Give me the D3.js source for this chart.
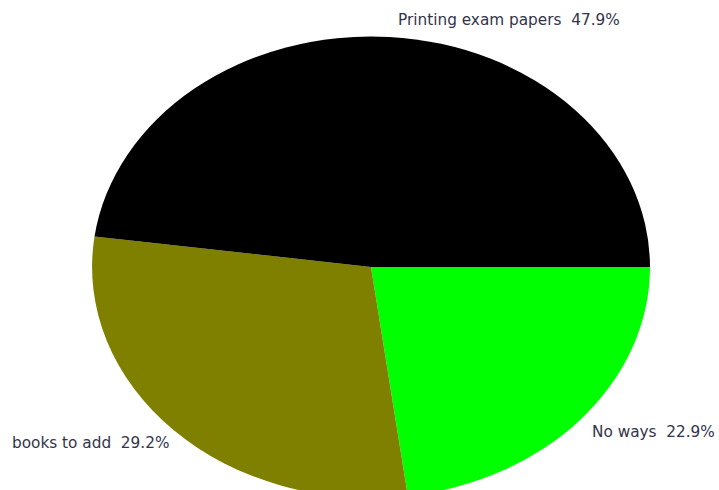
<!DOCTYPE html>
<html><head><meta charset="utf-8">
<script src="https://cdn.jsdelivr.net/npm/d3@7"></script>
<style>html,body{margin:0;padding:0;background:#fff;overflow:hidden}</style>
</head><body>
<svg id="chart" width="719" height="490"></svg>
<script>
const categories = ["No ways", "books to add", "Printing exam papers"];
const values = [22.9, 29.2, 47.9];
const colors = ["#00ff00", "#808000", "#000000"];

const W = 719, H = 490;
const cx = 371, cy = 267, rx = 279, ry = 231;
const svg = d3.select("#chart");

const pie = d3.pie().sort(null).value(d => d.v)
  .startAngle(Math.PI / 2).endAngle(Math.PI / 2 + 2 * Math.PI);
const data = categories.map((c, i) => ({c, v: values[i], col: colors[i]}));
const arcs = pie(data);
const arc = d3.arc().innerRadius(0).outerRadius(1);

const g = svg.append("g").attr("transform", `translate(${cx},${cy}) scale(${rx},${ry})`);
g.selectAll("path").data(arcs).enter().append("path")
  .attr("d", arc).attr("fill", d => d.data.col);

// labels
const labelPos = {
  "Printing exam papers": [398, 25],
  "books to add": [12, 448],
  "No ways": [592, 437]
};
svg.selectAll("text.lbl").data(arcs).enter().append("text")
  .attr("class", "lbl")
  .attr("x", d => labelPos[d.data.c][0])
  .attr("y", d => labelPos[d.data.c][1])
  .attr("font-family", "DejaVu Sans, Verdana, sans-serif")
  .attr("font-size", 15.3)
  .attr("fill", "#33334a")
  .style("white-space", "pre")
  .text(d => d.data.c + "  " + d3.format(".1f")(d.data.v) + "%");
</script>
</body></html>
